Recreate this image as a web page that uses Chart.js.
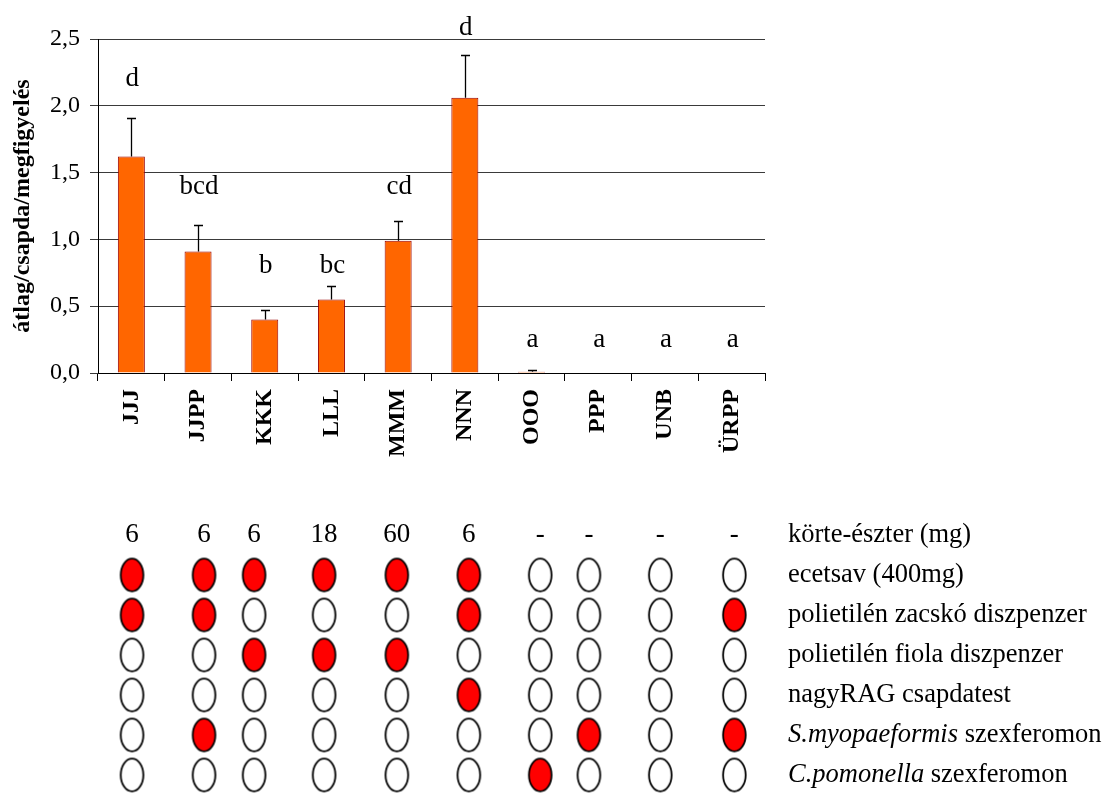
<!DOCTYPE html>
<html>
<head>
<meta charset="utf-8">
<script src="https://cdn.jsdelivr.net/npm/chart.js@4.4.1/dist/chart.umd.min.js"></script>
<style>
  html, body { margin: 0; padding: 0; background: #ffffff; }
  .layer { position: absolute; left: 0; top: 0; width: 1105px; height: 793px; }
</style>
</head>
<body>
<div class="layer"><canvas id="bars"></canvas></div>
<div class="layer"><canvas id="matrix"></canvas></div>
<script>
// Treatments (trap types) along the x axis
const treatments = ['JJJ', 'JJPP', 'KKK', 'LLL', 'MMM', 'NNN', 'OOO', 'PPP', 'UNB', 'ÜRPP'];
// Mean catch per trap per observation
const catchMeans = [1.62, 0.91, 0.40, 0.55, 0.99, 2.06, 0.01, 0, 0, 0];
// Top of the error bar (mean + SE)
const catchUpper = [1.91, 1.11, 0.47, 0.65, 1.14, 2.38, 0.02, 0, 0, 0];
// Significance groups and the axis value where each letter sits
const groupLetters = ['d', 'bcd', 'b', 'bc', 'cd', 'd', 'a', 'a', 'a', 'a'];
const letterLevels = [2.20, 1.39, 0.80, 0.80, 1.39, 2.58, 0.25, 0.25, 0.25, 0.25];
// Y axis range and step
const yMin = 0, yMax = 2.5, yStep = 0.5;

// Bait composition table below the chart
const esterDoses = [6, 6, 6, 18, 60, 6, null, null, null, null];
const doseRowLabel = 'körte-észter (mg)';
const componentLabels = [
  ['ecetsav (400mg)', ''],
  ['polietilén zacskó diszpenzer', ''],
  ['polietilén fiola diszpenzer', ''],
  ['nagyRAG csapdatest', ''],
  ['S.myopaeformis', ' szexferomon'],
  ['C.pomonella', ' szexferomon']
];
// 1 = component present in the treatment, 0 = absent
const componentsUsed = [
  [1, 1, 1, 1, 1, 1, 0, 0, 0, 0],
  [1, 1, 0, 0, 0, 1, 0, 0, 0, 1],
  [0, 0, 1, 1, 1, 0, 0, 0, 0, 0],
  [0, 0, 0, 0, 0, 1, 0, 0, 0, 0],
  [0, 1, 0, 0, 0, 0, 0, 1, 0, 1],
  [0, 0, 0, 0, 0, 0, 1, 0, 0, 0]
];
// Column of each treatment in the table, in category units of the bar axis
const columnSlots = [0.01, 1.09, 1.84, 2.89, 3.98, 5.06, 6.13, 6.86, 7.93, 9.04];

const SERIF = "'Liberation Serif', 'Times New Roman', serif";

// ---------- bar chart ----------
const errorBars = {
  id: 'errorBars',
  afterDatasetsDraw(chart) {
    const meta = chart.getDatasetMeta(0);
    const y = chart.scales.y;
    const ctx = chart.ctx;
    ctx.save();
    ctx.strokeStyle = '#000';
    ctx.lineWidth = 1.3;
    meta.data.forEach((bar, i) => {
      if (catchUpper[i] <= catchMeans[i]) return;
      const yt = Math.round(y.getPixelForValue(catchUpper[i])) + 0.5;
      const yb = y.getPixelForValue(catchMeans[i]);
      const x = Math.round(bar.x) + 0.5;
      ctx.beginPath();
      ctx.moveTo(x, yb);
      ctx.lineTo(x, yt);
      ctx.moveTo(x - 4.5, yt);
      ctx.lineTo(x + 4.5, yt);
      ctx.stroke();
    });
    ctx.restore();
  }
};

const letterMarks = {
  id: 'letterMarks',
  afterDatasetsDraw(chart) {
    const meta = chart.getDatasetMeta(0);
    const y = chart.scales.y;
    const ctx = chart.ctx;
    ctx.save();
    ctx.fillStyle = '#000';
    ctx.font = '27px ' + SERIF;
    ctx.textAlign = 'center';
    ctx.textBaseline = 'middle';
    meta.data.forEach((bar, i) => {
      ctx.fillText(groupLetters[i], bar.x + 1, y.getPixelForValue(letterLevels[i]));
    });
    ctx.restore();
  }
};

new Chart(document.getElementById('bars'), {
  type: 'bar',
  data: {
    labels: treatments,
    datasets: [{
      data: catchMeans,
      backgroundColor: '#ff6600',
      borderColor: '#990000',
      borderWidth: 1,
      barPercentage: 0.405,
      categoryPercentage: 1
    }]
  },
  options: {
    animation: false,
    responsive: true,
    maintainAspectRatio: false,
    events: [],
    layout: { padding: { top: 39, right: 340, left: 0, bottom: 0 } },
    plugins: { legend: { display: false }, tooltip: { enabled: false } },
    scales: {
      x: {
        grid: { drawOnChartArea: false, drawTicks: true, tickLength: 8, color: '#000', offset: true },
        border: { color: '#000', width: 1 },
        ticks: {
          autoSkip: false, maxRotation: 90, minRotation: 90, padding: 8,
          color: '#000', font: { family: SERIF, size: 24, weight: 'bold' }
        },
        afterFit(scale) { scale.height = 420; }
      },
      y: {
        min: yMin, max: yMax,
        grid: { color: '#3a3a3a', tickLength: 8, lineWidth: 1 },
        border: { color: '#000', width: 1 },
        ticks: {
          stepSize: yStep, padding: 10, color: '#000',
          font: { family: SERIF, size: 24 },
          callback: v => v.toFixed(1).replace('.', ',')
        },
        title: {
          display: true, text: 'átlag/csapda/megfigyelés', color: '#000',
          font: { family: SERIF, size: 24, weight: 'bold' },
          padding: { top: 8, bottom: 0 }
        },
        afterFit(scale) { scale.width = 98; }
      }
    }
  },
  plugins: [errorBars, letterMarks]
});

// ---------- composition table ----------
function ellipseSprite(fill) {
  const c = document.createElement('canvas');
  c.width = 27; c.height = 37;
  const g = c.getContext('2d');
  g.beginPath();
  g.ellipse(13.5, 18.5, 11.3, 16.4, 0, 0, Math.PI * 2);
  g.fillStyle = fill;
  g.fill();
  g.lineWidth = 1.8;
  g.strokeStyle = '#000';
  g.stroke();
  return c;
}

const usedPoints = [], unusedPoints = [];
componentsUsed.forEach((row, r) => {
  row.forEach((v, i) => {
    (v ? usedPoints : unusedPoints).push({ x: columnSlots[i], y: r + 1 });
  });
});

const tableText = {
  id: 'tableText',
  afterDatasetsDraw(chart) {
    const xs = chart.scales.x, ys = chart.scales.y;
    const ctx = chart.ctx;
    ctx.save();
    ctx.fillStyle = '#000';
    ctx.textBaseline = 'middle';
    // ester doses
    ctx.font = '27px ' + SERIF;
    ctx.textAlign = 'center';
    esterDoses.forEach((d, i) => {
      ctx.fillText(d === null ? '-' : String(d), xs.getPixelForValue(columnSlots[i]), ys.getPixelForValue(0));
    });
    // row names
    ctx.textAlign = 'left';
    const left = chart.chartArea.right + 23;
    const size = '26.5px ';
    ctx.font = size + SERIF;
    ctx.fillText(doseRowLabel, left, ys.getPixelForValue(0));
    componentLabels.forEach((parts, r) => {
      const yy = ys.getPixelForValue(r + 1);
      let x = left;
      if (r >= 4) {
        ctx.font = 'italic ' + size + SERIF;
        ctx.fillText(parts[0], x, yy);
        x += ctx.measureText(parts[0]).width;
        ctx.font = size + SERIF;
        ctx.fillText(parts[1], x, yy);
      } else {
        ctx.font = size + SERIF;
        ctx.fillText(parts[0], x, yy);
      }
    });
    ctx.restore();
  }
};

new Chart(document.getElementById('matrix'), {
  type: 'scatter',
  data: {
    datasets: [
      { data: usedPoints, pointStyle: ellipseSprite('#ff0000'), clip: false },
      { data: unusedPoints, pointStyle: ellipseSprite('#ffffff'), clip: false }
    ]
  },
  options: {
    animation: false,
    responsive: true,
    maintainAspectRatio: false,
    events: [],
    layout: { padding: { left: 98, right: 340, top: 535, bottom: 18 } },
    plugins: { legend: { display: false }, tooltip: { enabled: false } },
    scales: {
      x: { type: 'linear', min: -0.5, max: 9.5, display: false },
      y: { type: 'linear', min: 0, max: 6, reverse: true, display: false }
    }
  },
  plugins: [tableText]
});
</script>
</body>
</html>
